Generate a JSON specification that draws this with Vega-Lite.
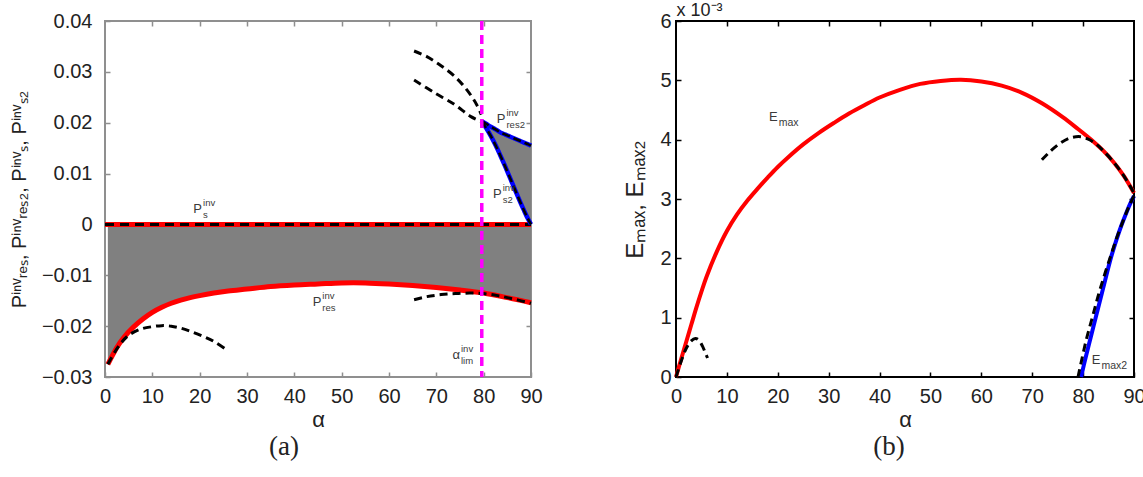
{
  "$schema": "https://vega.github.io/schema/vega-lite/v6.json",
  "background": "white",
  "padding": {"left": 8, "top": 0, "right": 0, "bottom": 0},
  "spacing": 78,
  "config": {
    "font": "Liberation Sans",
    "axis": {
      "labelFont": "Liberation Sans",
      "labelFontSize": 20,
      "labelColor": "#222222",
      "titleFont": "Liberation Sans",
      "titleFontWeight": "normal",
      "titleColor": "#222222",
      "grid": false,
      "domain": false,
      "tickSize": -5,
      "tickWidth": 1.5,
      "labelFlush": false,
      "labelOverlap": false
    }
  },
  "datasets": {
    "leftRes": [
      {"a": 0.6, "p": -0.0275}, {"a": 1.5, "p": -0.0259}, {"a": 2.5, "p": -0.0242},
      {"a": 4, "p": -0.0222}, {"a": 6, "p": -0.0202}, {"a": 8, "p": -0.0186},
      {"a": 10, "p": -0.0173}, {"a": 12, "p": -0.0163}, {"a": 14, "p": -0.0155},
      {"a": 16, "p": -0.0149}, {"a": 18, "p": -0.0144}, {"a": 20, "p": -0.0140},
      {"a": 23, "p": -0.0135}, {"a": 26, "p": -0.0131}, {"a": 30, "p": -0.0127},
      {"a": 35, "p": -0.0122}, {"a": 40, "p": -0.0119}, {"a": 45, "p": -0.0117},
      {"a": 50, "p": -0.0115}, {"a": 55, "p": -0.0115}, {"a": 60, "p": -0.0117},
      {"a": 65, "p": -0.0120}, {"a": 70, "p": -0.0124}, {"a": 75, "p": -0.0129},
      {"a": 80, "p": -0.0135}, {"a": 85, "p": -0.0144}, {"a": 90, "p": -0.0154}
    ],
    "leftUpper": [
      {"a": 79.6, "r2": 0.0203, "s2": 0.0203}, {"a": 80.5, "r2": 0.0198, "s2": 0.0190},
      {"a": 81.5, "r2": 0.0192, "s2": 0.0174}, {"a": 82.5, "r2": 0.0187, "s2": 0.0156},
      {"a": 83.5, "r2": 0.0181, "s2": 0.0136}, {"a": 84.5, "r2": 0.0177, "s2": 0.0115},
      {"a": 85.5, "r2": 0.0173, "s2": 0.0093}, {"a": 86.5, "r2": 0.0169, "s2": 0.0071},
      {"a": 87.5, "r2": 0.0165, "s2": 0.0049}, {"a": 88.5, "r2": 0.0161, "s2": 0.0028},
      {"a": 89.3, "r2": 0.0158, "s2": 0.0012}, {"a": 90, "r2": 0.0155, "s2": 0.0}
    ],
    "zero": [{"a": 0, "v": 0}, {"a": 90, "v": 0}],
    "leftDash": [
      {"b": "b1", "a": 0.6, "v": -0.0275}, {"b": "b1", "a": 2, "v": -0.0252},
      {"b": "b1", "a": 3.5, "v": -0.0232}, {"b": "b1", "a": 5, "v": -0.0218},
      {"b": "b1", "a": 7.5, "v": -0.0206}, {"b": "b1", "a": 10, "v": -0.0201},
      {"b": "b1", "a": 12, "v": -0.0199}, {"b": "b1", "a": 14, "v": -0.0200},
      {"b": "b1", "a": 16, "v": -0.0204}, {"b": "b1", "a": 18, "v": -0.0210},
      {"b": "b1", "a": 20.5, "v": -0.0219}, {"b": "b1", "a": 23, "v": -0.0230},
      {"b": "b1", "a": 25.3, "v": -0.0244},
      {"b": "b2", "a": 65.3, "v": -0.0148}, {"b": "b2", "a": 68, "v": -0.0142},
      {"b": "b2", "a": 71, "v": -0.0138}, {"b": "b2", "a": 74, "v": -0.0136},
      {"b": "b2", "a": 77, "v": -0.0135}, {"b": "b2", "a": 80, "v": -0.0136},
      {"b": "b2", "a": 83, "v": -0.0140}, {"b": "b2", "a": 86, "v": -0.0146},
      {"b": "b2", "a": 90, "v": -0.0155},
      {"b": "b3", "a": 65.3, "v": 0.0341}, {"b": "b3", "a": 68, "v": 0.0330},
      {"b": "b3", "a": 71, "v": 0.0312}, {"b": "b3", "a": 74, "v": 0.0290},
      {"b": "b3", "a": 76.5, "v": 0.0264}, {"b": "b3", "a": 78.5, "v": 0.0236},
      {"b": "b3", "a": 79.5, "v": 0.0216},
      {"b": "b4", "a": 65.3, "v": 0.0284}, {"b": "b4", "a": 69.6, "v": 0.0259},
      {"b": "b4", "a": 73.8, "v": 0.0236}, {"b": "b4", "a": 77.3, "v": 0.0212},
      {"b": "b4", "a": 79.6, "v": 0.0202}
    ],
    "leftLabels": [
      {"a": 20.5, "v": 0.0023, "base": "P", "sup": "inv", "sub": "s"},
      {"a": 45.7, "v": -0.0160, "base": "P", "sup": "inv", "sub": "res"},
      {"a": 84.6, "v": 0.0200, "base": "P", "sup": "inv", "sub": "res2"},
      {"a": 83.8, "v": 0.0052, "base": "P", "sup": "inv", "sub": "s2"},
      {"a": 75.0, "v": -0.0265, "base": "α", "sup": "inv", "sub": "lim"}
    ],
    "rightMax": [
      {"a": 0, "e": 0.0}, {"a": 1, "e": 0.00030}, {"a": 2, "e": 0.00059},
      {"a": 3, "e": 0.00088}, {"a": 4, "e": 0.00117}, {"a": 5, "e": 0.00144},
      {"a": 6, "e": 0.00169}, {"a": 8, "e": 0.00211}, {"a": 10, "e": 0.00246},
      {"a": 12, "e": 0.00274}, {"a": 14, "e": 0.00297}, {"a": 16, "e": 0.00317},
      {"a": 18, "e": 0.00336}, {"a": 20, "e": 0.00354}, {"a": 22, "e": 0.00370},
      {"a": 25, "e": 0.00392}, {"a": 28, "e": 0.00411}, {"a": 31, "e": 0.00428},
      {"a": 34, "e": 0.00444}, {"a": 37, "e": 0.00458}, {"a": 40, "e": 0.00471},
      {"a": 44, "e": 0.00484}, {"a": 48, "e": 0.00494}, {"a": 52, "e": 0.00499},
      {"a": 56, "e": 0.00501}, {"a": 60, "e": 0.00498}, {"a": 64, "e": 0.00491},
      {"a": 68, "e": 0.00479}, {"a": 72, "e": 0.00461}, {"a": 76, "e": 0.00438},
      {"a": 79, "e": 0.00418}, {"a": 82, "e": 0.00397}, {"a": 84, "e": 0.00381},
      {"a": 86, "e": 0.00362}, {"a": 88, "e": 0.00339}, {"a": 90, "e": 0.00310}
    ],
    "rightMax2": [
      {"a": 79.6, "e": 0.0}, {"a": 80.5, "e": 0.00033}, {"a": 81.5, "e": 0.00067},
      {"a": 82.5, "e": 0.00101}, {"a": 83.5, "e": 0.00135}, {"a": 84.5, "e": 0.00169},
      {"a": 85.5, "e": 0.00202}, {"a": 86.5, "e": 0.00230}, {"a": 87.5, "e": 0.00255},
      {"a": 88.5, "e": 0.00277}, {"a": 89.3, "e": 0.00293}, {"a": 90, "e": 0.00305}
    ],
    "rightDash": [
      {"b": "c1", "a": 0, "e": 0.0}, {"b": "c1", "a": 1, "e": 0.00026},
      {"b": "c1", "a": 2, "e": 0.00048}, {"b": "c1", "a": 3, "e": 0.00061},
      {"b": "c1", "a": 3.8, "e": 0.00065}, {"b": "c1", "a": 4.5, "e": 0.00062},
      {"b": "c1", "a": 5.2, "e": 0.00052}, {"b": "c1", "a": 5.8, "e": 0.00040},
      {"b": "c1", "a": 6.2, "e": 0.00032},
      {"b": "c2", "a": 71.9, "e": 0.00366}, {"b": "c2", "a": 73.5, "e": 0.00380},
      {"b": "c2", "a": 75.5, "e": 0.00394}, {"b": "c2", "a": 77.5, "e": 0.00403},
      {"b": "c2", "a": 79.5, "e": 0.00405}, {"b": "c2", "a": 81, "e": 0.00401},
      {"b": "c2", "a": 82.5, "e": 0.00393}, {"b": "c2", "a": 84, "e": 0.00381},
      {"b": "c2", "a": 86, "e": 0.00362}, {"b": "c2", "a": 88, "e": 0.00339},
      {"b": "c2", "a": 90, "e": 0.00310},
      {"b": "c3", "a": 79.0, "e": 0.0}, {"b": "c3", "a": 80.6, "e": 0.00062},
      {"b": "c3", "a": 81.8, "e": 0.00100}, {"b": "c3", "a": 82.9, "e": 0.00135},
      {"b": "c3", "a": 84.2, "e": 0.00172}, {"b": "c3", "a": 85.5, "e": 0.00206},
      {"b": "c3", "a": 86.5, "e": 0.00232}, {"b": "c3", "a": 87.5, "e": 0.00255},
      {"b": "c3", "a": 88.5, "e": 0.00277}, {"b": "c3", "a": 89.3, "e": 0.00293},
      {"b": "c3", "a": 90, "e": 0.00305}
    ],
    "rightLabels": [
      {"a": 20.0, "e": 0.00432, "base": "E", "sub": "max"},
      {"a": 83.4, "e": 0.00022, "base": "E", "sub": "max2"}
    ]
  },
  "hconcat": [
    {
      "width": 426,
      "height": 356,
      "view": {"stroke": "#8f8f8f", "strokeWidth": 2},
      "title": {"text": "(a)", "orient": "bottom", "font": "Liberation Serif", "fontSize": 27, "fontWeight": "normal", "color": "#222222", "dx": -34, "offset": 4},
      "resolve": {"axis": {"x": "independent", "y": "independent"}},
      "layer": [
        {
          "data": {"name": "leftRes"},
          "mark": {"type": "area", "color": "#808080", "interpolate": "catmull-rom"},
          "encoding": {
            "x": {"field": "a", "type": "quantitative", "scale": {"domain": [0, 90], "nice": false},
                  "axis": {"orient": "bottom", "values": [0, 10, 20, 30, 40, 50, 60, 70, 80, 90], "title": "α", "titleFontSize": 22, "titlePadding": 3, "labelPadding": 14, "tickColor": "#8f8f8f"}},
            "y": {"field": "p", "type": "quantitative", "scale": {"domain": [-0.03, 0.04], "nice": false},
                  "axis": {"orient": "left", "values": [-0.03, -0.02, -0.01, 0, 0.01, 0.02, 0.03, 0.04], "labelExpr": "datum.value === 0 ? '0' : format(datum.value, '.2f')", "title": "Pⁱⁿᵛᵣₑₛ, Pⁱⁿᵛᵣₑₛ₂, Pⁱⁿᵛₛ, Pⁱⁿᵛₛ₂", "titleFontSize": 20, "labelPadding": 18, "titlePadding": 12, "tickColor": "#8f8f8f"}},
            "y2": {"datum": 0}
          }
        },
        {
          "data": {"name": "leftUpper"},
          "mark": {"type": "area", "color": "#808080", "interpolate": "catmull-rom"},
          "encoding": {
            "x": {"field": "a", "type": "quantitative", "axis": null},
            "y": {"field": "s2", "type": "quantitative", "axis": null},
            "y2": {"field": "r2"}
          }
        },
        {
          "data": {"name": "leftRes"},
          "mark": {"type": "line", "color": "#ff0000", "strokeWidth": 5, "interpolate": "catmull-rom"},
          "encoding": {
            "x": {"field": "a", "type": "quantitative", "axis": null},
            "y": {"field": "p", "type": "quantitative", "axis": null}
          }
        },
        {
          "data": {"name": "zero"},
          "mark": {"type": "line", "color": "#ff0000", "strokeWidth": 5},
          "encoding": {
            "x": {"field": "a", "type": "quantitative",
                  "axis": {"orient": "top", "values": [10, 20, 30, 40, 50, 60, 70, 80], "labels": false, "title": null, "tickColor": "#8f8f8f"}},
            "y": {"field": "v", "type": "quantitative",
                  "axis": {"orient": "right", "values": [-0.02, -0.01, 0, 0.01, 0.02, 0.03], "labels": false, "title": null, "tickColor": "#8f8f8f"}}
          }
        },
        {
          "data": {"name": "zero"},
          "mark": {"type": "line", "color": "#000000", "strokeWidth": 3, "strokeDash": [9, 6]},
          "encoding": {
            "x": {"field": "a", "type": "quantitative", "axis": null},
            "y": {"field": "v", "type": "quantitative", "axis": null}
          }
        },
        {
          "data": {"name": "leftDash"},
          "mark": {"type": "line", "color": "#000000", "strokeWidth": 3, "strokeDash": [8, 5], "interpolate": "catmull-rom"},
          "encoding": {
            "x": {"field": "a", "type": "quantitative", "axis": null},
            "y": {"field": "v", "type": "quantitative", "axis": null},
            "detail": {"field": "b"}
          }
        },
        {
          "data": {"name": "leftUpper"},
          "mark": {"type": "line", "color": "#0000ff", "strokeWidth": 4.5, "interpolate": "catmull-rom"},
          "encoding": {
            "x": {"field": "a", "type": "quantitative", "axis": null},
            "y": {"field": "r2", "type": "quantitative", "axis": null}
          }
        },
        {
          "data": {"name": "leftUpper"},
          "mark": {"type": "line", "color": "#0000ff", "strokeWidth": 4.5, "interpolate": "catmull-rom"},
          "encoding": {
            "x": {"field": "a", "type": "quantitative", "axis": null},
            "y": {"field": "s2", "type": "quantitative", "axis": null}
          }
        },
        {
          "data": {"name": "leftUpper"},
          "mark": {"type": "line", "color": "#000000", "strokeWidth": 2.5, "strokeDash": [8, 4], "interpolate": "catmull-rom"},
          "encoding": {
            "x": {"field": "a", "type": "quantitative", "axis": null},
            "y": {"field": "r2", "type": "quantitative", "axis": null}
          }
        },
        {
          "data": {"name": "leftUpper"},
          "mark": {"type": "line", "color": "#000000", "strokeWidth": 2.5, "strokeDash": [8, 4], "interpolate": "catmull-rom"},
          "encoding": {
            "x": {"field": "a", "type": "quantitative", "axis": null},
            "y": {"field": "s2", "type": "quantitative", "axis": null}
          }
        },
        {
          "data": {"values": [{"a": 79.6}]},
          "mark": {"type": "rule", "color": "#ff00ff", "strokeWidth": 3.5, "strokeDash": [9, 5]},
          "encoding": {
            "x": {"field": "a", "type": "quantitative", "axis": null}
          }
        },
        {
          "data": {"name": "leftLabels"},
          "mark": {"type": "text", "align": "right", "baseline": "alphabetic", "fontSize": 13, "color": "#3a3a3a"},
          "encoding": {
            "x": {"field": "a", "type": "quantitative", "axis": null},
            "y": {"field": "v", "type": "quantitative", "axis": null},
            "text": {"field": "base"}
          }
        },
        {
          "data": {"name": "leftLabels"},
          "mark": {"type": "text", "align": "left", "baseline": "alphabetic", "fontSize": 9.5, "dx": 1, "dy": -7, "color": "#3a3a3a"},
          "encoding": {
            "x": {"field": "a", "type": "quantitative", "axis": null},
            "y": {"field": "v", "type": "quantitative", "axis": null},
            "text": {"field": "sup"}
          }
        },
        {
          "data": {"name": "leftLabels"},
          "mark": {"type": "text", "align": "left", "baseline": "alphabetic", "fontSize": 9.5, "dx": 1, "dy": 5, "color": "#3a3a3a"},
          "encoding": {
            "x": {"field": "a", "type": "quantitative", "axis": null},
            "y": {"field": "v", "type": "quantitative", "axis": null},
            "text": {"field": "sub"}
          }
        }
      ]
    },
    {
      "width": 458,
      "height": 356,
      "view": {"stroke": "#000000", "strokeWidth": 2},
      "title": {"text": "(b)", "orient": "bottom", "font": "Liberation Serif", "fontSize": 27, "fontWeight": "normal", "color": "#222222", "dx": -16, "offset": 4},
      "resolve": {"axis": {"x": "independent", "y": "independent"}},
      "layer": [
        {
          "data": {"name": "rightMax"},
          "mark": {"type": "line", "color": "#ff0000", "strokeWidth": 4, "interpolate": "catmull-rom"},
          "encoding": {
            "x": {"field": "a", "type": "quantitative", "scale": {"domain": [0, 90], "nice": false},
                  "axis": {"orient": "bottom", "values": [0, 10, 20, 30, 40, 50, 60, 70, 80, 90], "title": "α", "titleFontSize": 22, "titlePadding": 3, "labelPadding": 14, "tickColor": "#000000"}},
            "y": {"field": "e", "type": "quantitative", "scale": {"domain": [0, 0.006], "nice": false},
                  "axis": {"orient": "left", "values": [0, 0.001, 0.002, 0.003, 0.004, 0.005, 0.006], "labelExpr": "format(datum.value * 1000, '.0f')", "title": "Eₘₐₓ, Eₘₐₓ₂", "titleFontSize": 24, "labelPadding": 10, "titlePadding": 12, "tickColor": "#000000"}}
          }
        },
        {
          "data": {"name": "rightMax2"},
          "mark": {"type": "line", "color": "#0000ff", "strokeWidth": 4, "interpolate": "catmull-rom"},
          "encoding": {
            "x": {"field": "a", "type": "quantitative",
                  "axis": {"orient": "top", "values": [10, 20, 30, 40, 50, 60, 70, 80], "labels": false, "title": "x 10⁻³", "titleFontSize": 18, "titleAnchor": "start", "titleAlign": "left", "titleBaseline": "alphabetic", "titlePadding": 5, "tickColor": "#000000"}},
            "y": {"field": "e", "type": "quantitative",
                  "axis": {"orient": "right", "values": [0.001, 0.002, 0.003, 0.004, 0.005], "labels": false, "title": null, "tickColor": "#000000"}}
          }
        },
        {
          "data": {"name": "rightDash"},
          "mark": {"type": "line", "color": "#000000", "strokeWidth": 3, "strokeDash": [8, 5], "interpolate": "catmull-rom"},
          "encoding": {
            "x": {"field": "a", "type": "quantitative", "axis": null},
            "y": {"field": "e", "type": "quantitative", "axis": null},
            "detail": {"field": "b"}
          }
        },
        {
          "data": {"name": "rightLabels"},
          "mark": {"type": "text", "align": "right", "baseline": "alphabetic", "fontSize": 13, "color": "#3a3a3a"},
          "encoding": {
            "x": {"field": "a", "type": "quantitative", "axis": null},
            "y": {"field": "e", "type": "quantitative", "axis": null},
            "text": {"field": "base"}
          }
        },
        {
          "data": {"name": "rightLabels"},
          "mark": {"type": "text", "align": "left", "baseline": "alphabetic", "fontSize": 10.5, "dx": 1, "dy": 5, "color": "#3a3a3a"},
          "encoding": {
            "x": {"field": "a", "type": "quantitative", "axis": null},
            "y": {"field": "e", "type": "quantitative", "axis": null},
            "text": {"field": "sub"}
          }
        }
      ]
    }
  ]
}
